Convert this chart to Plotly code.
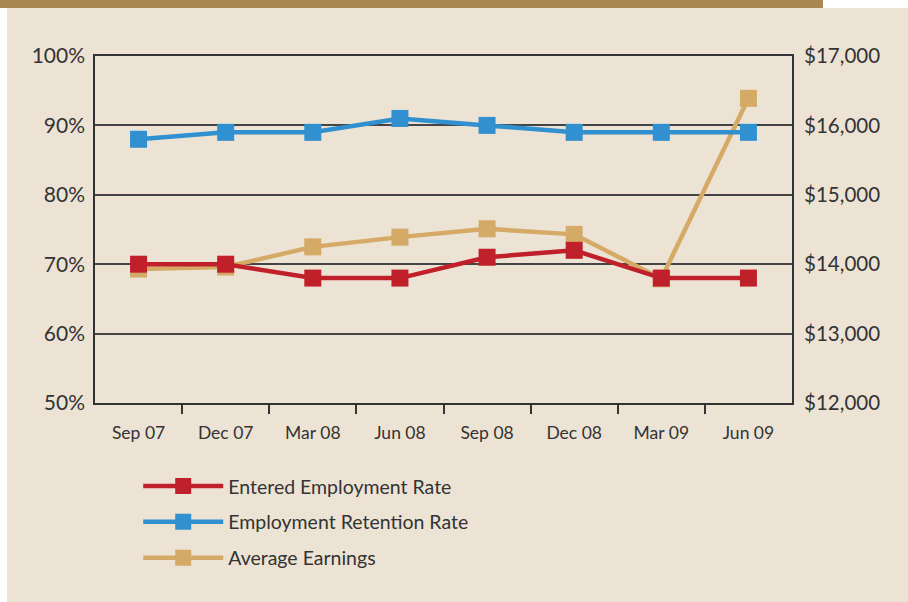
import plotly.graph_objects as go

# quarter labels
quarters = ['Sep 07', 'Dec 07', 'Mar 08', 'Jun 08',
            'Sep 08', 'Dec 08', 'Mar 09', 'Jun 09']

# rates in percent (left axis)
entered_rate = [70, 70, 68, 68, 71, 72, 68, 68]
retention_rate = [88, 89, 89, 91, 90, 89, 89, 89]

# average earnings in dollars (right axis)
avg_earnings = [13930, 13960, 14250, 14390, 14510, 14430, 13790, 16390]

RED = '#C0202A'
BLUE = '#3190CF'
GOLD = '#D4AA66'
BEIGE = '#EDE3D5'
BROWN = '#A88850'
INK = '#333333'
FONT = 'Lato'

x_pos = list(range(len(quarters)))
boundaries = [i + 0.5 for i in x_pos[:-1]]

fig = go.Figure()

# earnings sit on the base subplot so the rate lines draw on top of them
fig.add_trace(go.Scatter(x=x_pos, y=avg_earnings, name='Average Earnings',
                         mode='lines+markers', legendrank=3, legendgroup='c',
                         xaxis='x', yaxis='y',
                         line=dict(color=GOLD, width=4.5),
                         marker=dict(symbol='square', size=17, color=GOLD)))

fig.add_trace(go.Scatter(x=x_pos, y=entered_rate, name='Entered Employment Rate',
                         mode='lines+markers', legendrank=1, legendgroup='a',
                         xaxis='x2', yaxis='y2',
                         line=dict(color=RED, width=4.5),
                         marker=dict(symbol='square', size=17, color=RED)))

fig.add_trace(go.Scatter(x=x_pos, y=retention_rate, name='Employment Retention Rate',
                         mode='lines+markers', legendrank=2, legendgroup='b',
                         xaxis='x2', yaxis='y2',
                         line=dict(color=BLUE, width=4.5),
                         marker=dict(symbol='square', size=17, color=BLUE)))

xr = [-0.5, len(quarters) - 0.5]

fig.update_layout(
    width=908, height=602,
    margin=dict(l=95, r=116, t=56, b=199),
    paper_bgcolor='white',
    plot_bgcolor='white',
    font=dict(family=FONT, color=INK),
    xaxis=dict(range=xr, tickvals=boundaries, showticklabels=False,
               ticks='outside', ticklen=9, tickwidth=1.5, tickcolor=INK,
               showgrid=False, zeroline=False,
               showline=True, mirror=True, linecolor=INK, linewidth=2),
    xaxis2=dict(range=xr, overlaying='x', anchor='y2', side='bottom',
                tickvals=x_pos, ticktext=quarters, ticks='',
                ticklabelstandoff=17, tickfont=dict(size=17.5, color=INK),
                showgrid=False, zeroline=False, showline=False),
    yaxis=dict(range=[12000, 17000], dtick=1000, side='right',
               tickprefix='$', tickformat=',', ticks='',
               ticklabelstandoff=6, tickfont=dict(size=20.5, color=INK),
               showgrid=True, gridcolor='#444444', gridwidth=1.5,
               zeroline=False,
               showline=True, mirror=True, linecolor=INK, linewidth=2),
    yaxis2=dict(range=[50, 100], dtick=10, side='left', overlaying='y',
                anchor='x2', ticksuffix='%', ticks='',
                ticklabelstandoff=9, tickfont=dict(size=21, color=INK),
                showgrid=False, zeroline=False, showline=False),
    legend=dict(x=0.062, y=-0.184, xanchor='left', yanchor='top',
                orientation='v', bgcolor='rgba(0,0,0,0)',
                font=dict(size=19.5, color=INK), itemwidth=80,
                tracegroupgap=7.5),
    showlegend=True,
    shapes=[
        # beige panel behind everything
        dict(type='rect', xref='paper', yref='paper', layer='below',
             x0=-0.1263, x1=1.17, y0=-0.58, y1=1.1383,
             fillcolor=BEIGE, line=dict(width=0)),
        # brown header bar
        dict(type='rect', xref='paper', yref='paper', layer='below',
             x0=-0.14, x1=1.0445, y0=1.1383, y1=1.17,
             fillcolor=BROWN, line=dict(width=0)),
    ],
)

# the page's default body margin would shift the figure by 8px
fig.write_html("out.html", config={'displayModeBar': False},
               post_script="document.body.style.margin='0';")
